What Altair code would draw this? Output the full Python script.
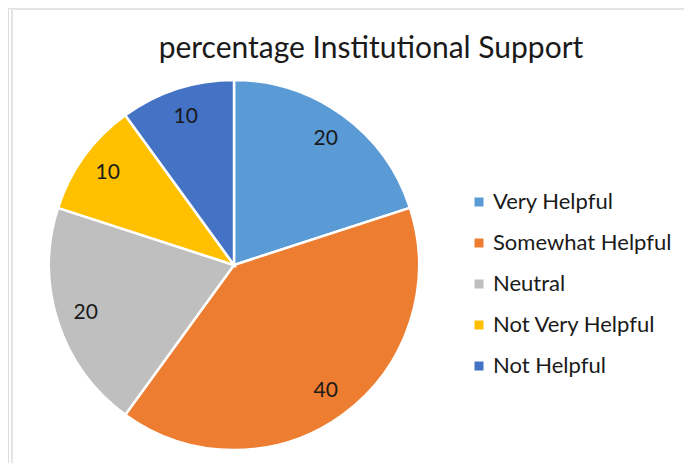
import altair as alt
import pandas as pd

categories = ["Very Helpful", "Somewhat Helpful", "Neutral", "Not Very Helpful", "Not Helpful"]
values = [20, 40, 20, 10, 10]
colors = ["#5B9BD5", "#ED7D31", "#BFBFBF", "#FFC000", "#4472C4"]
title_text = "percentage Institutional Support"

FONT = "Lato"
W, H = 676, 455
CX, CY = 226, 257

df = pd.DataFrame({"category": categories, "value": values, "order": list(range(len(categories)))})

base = alt.Chart(df).encode(
    theta=alt.Theta("value:Q", stack=True),
    order=alt.Order("order:Q", sort="ascending"),
    x=alt.value(CX),
    y=alt.value(CY),
)

pie = base.mark_arc(outerRadius=185, stroke="white", strokeWidth=2.5).encode(
    color=alt.Color(
        "category:N",
        scale=alt.Scale(domain=categories, range=colors),
        sort=categories,
        legend=alt.Legend(
            title=None,
            orient="none",
            legendX=460,
            legendY=183,
            symbolType="square",
            symbolSize=81,
            symbolStrokeWidth=0,
            labelFont=FONT,
            labelFontSize=22,
            labelColor="#1a1a1a",
            labelOffset=3,
            labelLimit=300,
            rowPadding=19,
        ),
    )
)

labels = base.mark_text(radius=156, font=FONT, fontSize=21, color="#1a1a1a").encode(
    text=alt.Text("value:Q")
)

frame_df = pd.DataFrame({"k": [0]})
vline = alt.Chart(frame_df).mark_rule(color="#e4e4e4", strokeWidth=2).encode(
    x=alt.value(4), y=alt.value(0), y2=alt.value(H)
)
hline = alt.Chart(frame_df).mark_rule(color="#e4e4e4", strokeWidth=2).encode(
    x=alt.value(4), x2=alt.value(W), y=alt.value(1)
)

chart = alt.layer(vline, hline, pie, labels).properties(
    width=W,
    height=H,
    autosize=alt.AutoSizeParams(type="none"),
    padding=0,
    title=alt.TitleParams(
        title_text,
        font=FONT,
        fontSize=30,
        fontWeight="normal",
        color="#1a1a1a",
        anchor="middle",
        baseline="alphabetic",
        offset=0,
        dx=25,
        dy=81,
    ),
).configure_view(stroke=None).configure(background="white")

chart.save("out.html", embed_options={"renderer": "svg", "actions": False})
